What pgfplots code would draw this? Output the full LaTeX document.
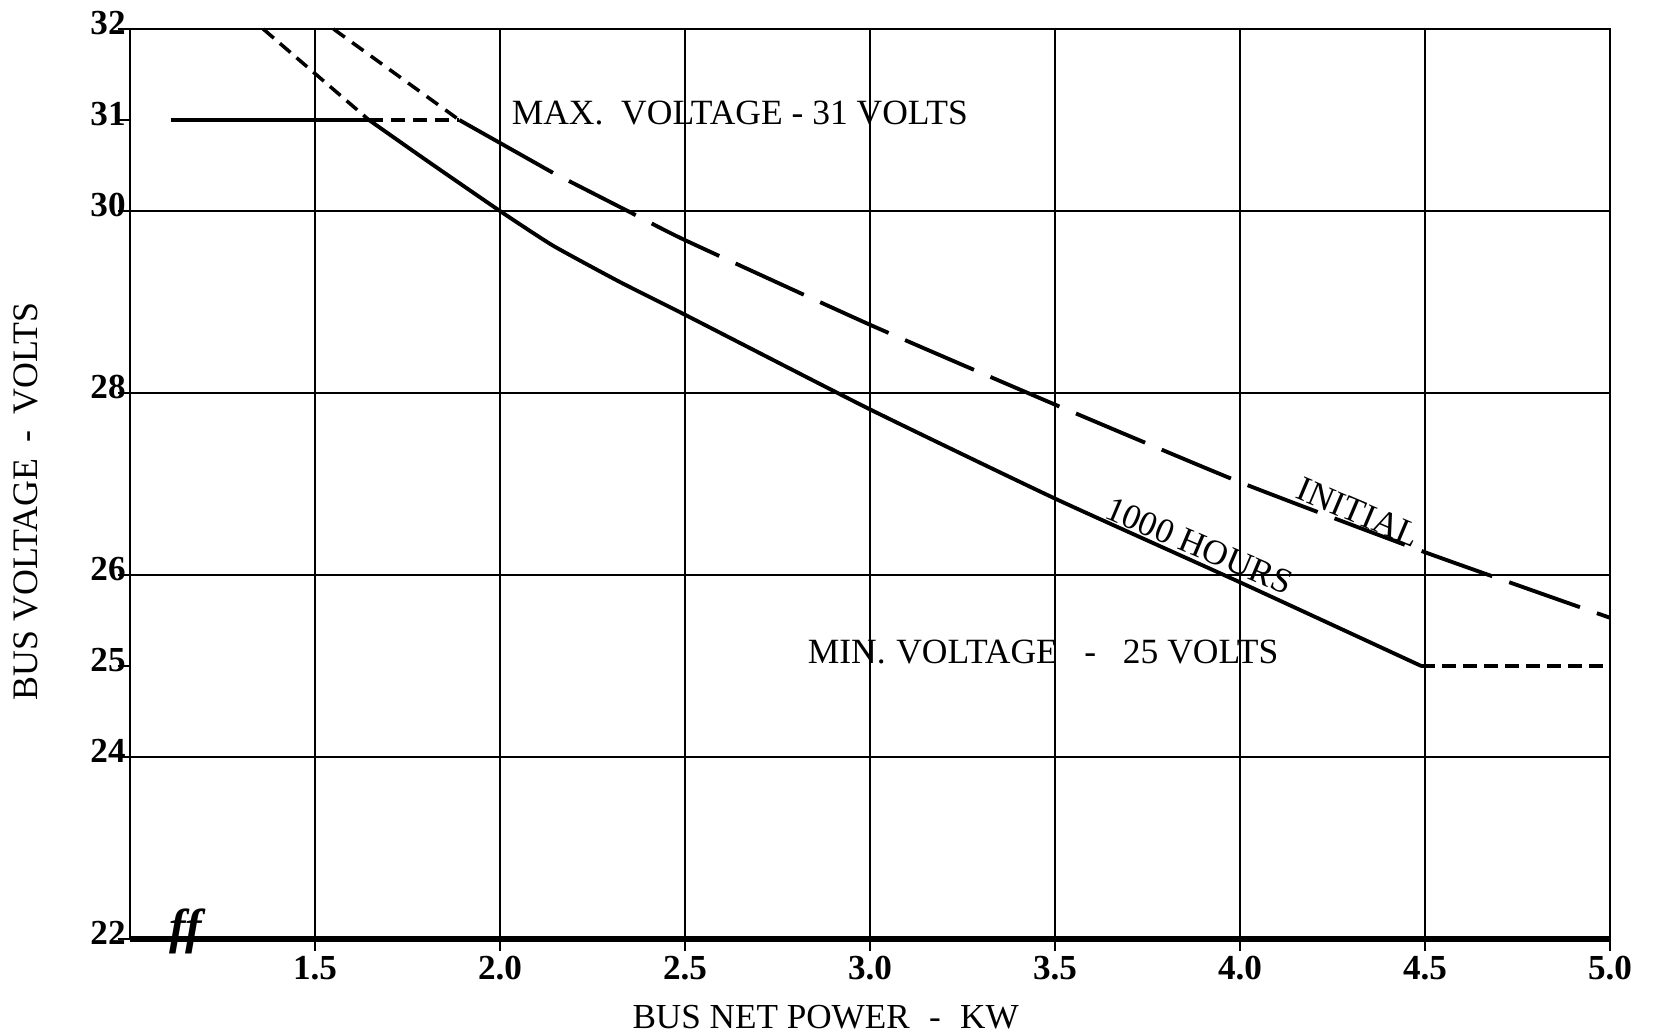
\documentclass[border=0pt]{standalone}
\usepackage{pgfplots}
\pgfplotsset{compat=1.18}
\usepackage{fontspec}
\setmainfont{Liberation Serif}

\begin{document}
\begin{tikzpicture}
\useasboundingbox (-13mm,-9.6mm) rectangle (152.7mm,93.9mm);
\begin{axis}[
  at={(0,0)}, anchor=south west,
  scale only axis, width=148mm, height=91mm,
  xmin=1, xmax=5, ymin=22, ymax=32,
  xtick={1.5,2,2.5,3,3.5,4,4.5,5},
  xticklabels={1.5,2.0,2.5,3.0,3.5,4.0,4.5,5.0},
  ytick={22,24,26,28,30,32},
  extra y ticks={25,31},
  extra y tick style={grid=none},
  grid=major,
  major x grid style={black, line width=0.5pt},
  major y grid style={black, line width=0.8pt},
  axis line style={black, line width=0.8pt},
  tick align=outside,
  major tick length=1.2mm,
  tick style={black, line width=0.8pt},
  xtick pos=bottom, ytick pos=left,
  ticklabel style={font=\fontsize{10}{12}\selectfont\bfseries},
  /pgf/number format/assume math mode=true,
  xticklabel style={yshift=0.7mm},
  yticklabel style={xshift=2mm, yshift=0.6mm},
  clip=false,
]
% 1000 hours
\addplot[black, line width=1.1pt] coordinates {(1.11,31) (1.646,31)};
\addplot[black, line width=1.1pt, smooth, tension=0.3] coordinates {
  (1.646,31) (1.8,30.56) (2.0,30.0) (2.143,29.62) (2.324,29.22)
  (2.5,28.86) (3.0,27.82) (3.5,26.84) (4.0,25.92) (4.49,25.0)
};
\addplot[black, line width=1pt, dash pattern=on 1.4mm off 0.8mm] coordinates {
  (1.36,32) (1.646,31)
};
\addplot[black, line width=1pt, dash pattern=on 1.4mm off 0.8mm] coordinates {
  (1.646,31) (1.89,31)
};
\addplot[black, line width=1.2pt, dash pattern=on 1.4mm off 0.7mm] coordinates {
  (4.49,25) (5.0,25)
};
% initial
\addplot[black, line width=1pt, dash pattern=on 1.4mm off 0.9mm] coordinates {
  (1.55,32) (1.89,31)
};
\addplot[black, line width=1.1pt] coordinates {(1.89,31) (2.143,30.42)};
\addplot[black, line width=1.1pt, smooth, tension=0.3,
  dash pattern=on 7.5mm off 1.8mm, dash phase=7.5mm] coordinates {
  (2.143,30.42) (2.35,29.99) (2.5,29.68) (3.0,28.75) (3.49,27.89)
  (4.0,27.02) (4.5,26.25) (5.0,25.53)
};
\draw[black, line width=1.6pt] (axis cs:1,22) -- (axis cs:5,22);

\node[anchor=base west, inner sep=0pt, font=\fontsize{10.1}{12}\selectfont] at (axis cs:2.03,30.95)
  {MAX.\hspace{0.5em}VOLTAGE - 31 VOLTS};
\node[anchor=base west, inner sep=0pt, font=\fontsize{10.1}{12}\selectfont] at (axis cs:2.83,25.03)
  {MIN.\hspace{0.3em}VOLTAGE\hspace{0.5em} - \hspace{0.5em}25 VOLTS};
\node[rotate=-23, inner sep=0pt, font=\fontsize{10}{12}\selectfont] at (axis cs:4.32,26.69) {INITIAL};
\node[rotate=-23, inner sep=0pt, font=\fontsize{10}{12}\selectfont] at (axis cs:3.89,26.32) {1000 HOURS};
\node[font=\fontsize{10}{12}\selectfont] at (axis cs:2.88,22) [yshift=-7.8mm]
  {BUS NET POWER\hspace{0.3em} - \hspace{0.3em}KW};
\node[xshift=-10.4mm, rotate=90, font=\fontsize{10.2}{12}\selectfont] at (axis cs:1,26.81)
  {BUS VOLTAGE\hspace{0.2em} - \hspace{0.2em}VOLTS};
\node[font=\fontsize{14}{14}\selectfont\itshape\bfseries] at (axis cs:1.15,22) [yshift=0.8mm] {ff};
\end{axis}
\end{tikzpicture}
\end{document}
